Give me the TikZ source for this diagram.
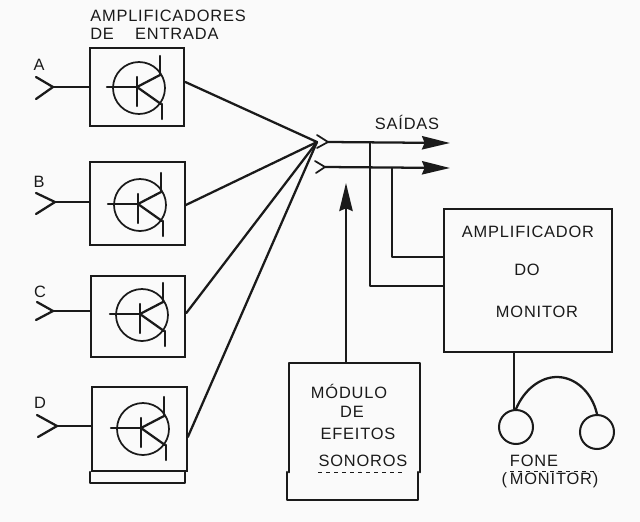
\documentclass[tikz,border=0pt]{standalone}
\usepackage{fontspec}
\setmainfont[LetterSpace=5]{Liberation Sans}
\usetikzlibrary{arrows.meta}
\definecolor{paper}{HTML}{FAFAFA}
\definecolor{ink}{HTML}{1A1A1A}
\tikzset{
  wire/.style={draw=ink,line width=1.7pt,line cap=round,line join=round},
  thin wire/.style={draw=ink,line width=1.3pt,line cap=round,line join=round},
  ampbox/.style={draw=ink,line width=1.5pt,minimum width=71pt,minimum height=60pt,inner sep=0pt},
  label/.style={text=ink,font=\fontsize{12.3}{14}\selectfont,inner sep=0pt},
  output/.style={wire,-{Stealth[length=21pt,width=10pt,inset=2pt]}},
  pics/trans/.style={code={
    \draw[thin wire] (0,0) circle[radius=26];
    \draw[wire] (-32,-1) -- (-2,-1);
    \draw[wire] (-2,-11) -- (-2,18);
    \draw[wire] (-2,-1) -- (21,-13);
    \draw[wire] (-2,-1) -- (22,16);
    \draw[wire] (21,-32) -- (21,-13);
    \draw[wire] (23,16) -- (23,31);
  }},
}
\begin{document}
\begin{tikzpicture}[x=0.75pt,y=-0.75pt]
\useasboundingbox (0,0) rectangle (640,522);
\fill[paper] (0,0) rectangle (640,522);
% amplifier boxes
\node[ampbox,minimum height=58.5pt] (ampA) at (137,87) {};
\node[ampbox,minimum height=62pt] (ampB) at (137.5,203.5) {};
\node[ampbox,minimum height=61pt] (ampC) at (138,316.5) {};
\node[ampbox,minimum height=63pt] (ampD) at (139.5,429) {};
\pic at (139,88) {trans};
\pic at (140,205) {trans};
\pic at (142,315) {trans};
\pic at (143,429) {trans};
% bracket under D
\coordinate (brL) at (90,472);
\coordinate (brR) at (185,472);
\draw[wire] (brL) -- ++(0,11) -- ++(95,0) -- (brR);
% inputs
\coordinate (inA) at (53,87);
\coordinate (inB) at (55,202);
\coordinate (inC) at (53,311);
\coordinate (inD) at (57,426);
\draw[wire] (36,77) -- (inA) -- (36,99);
\draw[wire] (36,193) -- (inB) -- (36,214);
\draw[wire] (37,302) -- (inC) -- (36,320);
\draw[wire] (37,415) -- (inD) -- (38,437);
\draw[wire] (inA) -- (ampA.west);
\draw[wire] (inB) -- (ampB.west |- inB);
\draw[wire] (inC) -- (ampC.west |- inC);
\draw[wire] (inD) -- (ampD.west |- inD);
\node[label] (lA) at (39,65) {A};
\node[label] (lB) at (39,182) {B};
\node[label] (lC) at (40,292) {C};
\node[label] (lD) at (40,403) {D};
% mix point
\coordinate (join) at (317,142);
\draw[wire] (ampA.east) ++(0,-5) -- (join);
\draw[wire] (ampB.east) ++(0,1.5) -- (join);
\draw[wire] (ampC.east) ++(0,-3.5) -- (join);
\draw[wire] (ampD.east) ++(0,8) -- (join);
% outputs
\coordinate (j1) at (328,142);
\coordinate (j2) at (325,167);
\coordinate (out1) at (450,143);
\coordinate (out2) at (450,168);
\draw[thin wire] (317,135) -- (j1) -- (317,148);
\draw[thin wire] (315,161) -- (j2) -- (316,173);
\draw[output] (j1) -- (out1);
\draw[output] (j2) -- (out2);
% monitor
\node[draw=ink,line width=1.5pt,minimum width=126pt,minimum height=107.25pt,inner sep=0pt] (mon) at (528,280.5) {};
\coordinate (t1) at (370,143);
\coordinate (t2) at (392,168);
\draw[wire] (t1) |- (mon.west |- 0,286);
\draw[wire] (t2) |- (mon.west |- 0,257);
\node[label] (m1) at (528,232) {AMPLIFICADOR};
\node[label] (m2) at (527,270) {DO};
\node[label] (m3) at (537,312) {MONITOR};
\node[label] (said) at (407,122) {SAÍDAS};
\node[label,anchor=west] (e1) at (90,16) {AMPLIFICADORES};
\node[label,anchor=west] (e2) at (90,34) {DE\hspace{16pt}ENTRADA};
% effects module
\node[minimum width=98.25pt,minimum height=81.75pt,inner sep=0pt] (mod) at (354.5,417.5) {};
\draw[wire] (mod.south west) -- (mod.north west) -- (mod.north east) -- (mod.south east);
\draw[wire] (287,472) -- (287,500) -- (418,500) -- (418,472);
\draw[ink,line width=0.6pt,dashed] (318,472) -- (403,472);
\draw[output] (mod.north -| 346,0) -- (346,183);
\node[label] (s1) at (349,391) {MÓDULO};
\node[label] (s2) at (352,412) {DE};
\node[label] (s3) at (358,434) {EFEITOS};
\node[label] (s4) at (363,461) {SONOROS};
% headphones
\node[draw=ink,line width=1.5pt,circle,minimum size=25.5pt,inner sep=0pt] (ph1) at (516,427) {};
\node[draw=ink,line width=1.5pt,circle,minimum size=25.5pt,inner sep=0pt] (ph2) at (597,432) {};
\draw[wire] (mon.south -| 514,0) -- (ph1.north -| 514,0);
\draw[wire] (ph1.north) .. controls (524,390) and (540,377) .. (557,377) .. controls (575,377) and (592,392) .. (ph2.north);
\draw[ink,line width=0.5pt,dashed] (510,471) -- (598,471);
\node[label] (f1) at (534,461) {FONE};
\node[label] (f2) at (550,480) {(\,MONITOR)};
\end{tikzpicture}
\end{document}
